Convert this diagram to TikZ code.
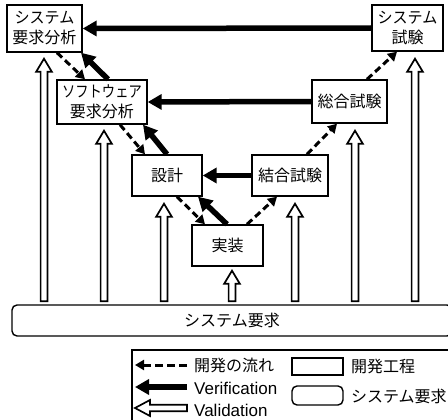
\documentclass[tikz,border=0pt]{standalone}
\usepackage{fontspec}
\usepackage{graphicx}
\setmainfont{Noto Sans CJK JP}
\newfontfamily\lat{Liberation Sans}
\usetikzlibrary{arrows.meta,calc}
\newcommand\narrow[2]{\scalebox{#1}[1]{#2}}
\newcommand\valup[2]{%
  \draw[valid] let \p1=(#1), \p2=(#2) in
   (\x1-3.4pt,\y1+3pt) -- (\x1-3.4pt,\y2-13pt) -- (\x1-7.8pt,\y2-13pt) -- (\x1,\y2)
   -- (\x1+7.8pt,\y2-13pt) -- (\x1+3.4pt,\y2-13pt) -- (\x1+3.4pt,\y1+3pt) -- cycle;}
\begin{document}
\begin{tikzpicture}[x=1pt,y=-1pt,
  proc/.style={draw,line width=1.4pt,inner sep=0pt,align=center,
    font=\fontsize{16}{20}\selectfont},
  req/.style={draw,line width=1.4pt,rounded corners=5pt,inner sep=0pt,
    font=\fontsize{16}{20}\selectfont},
  flow/.style={line width=3pt,dash pattern=on 7pt off 4pt,
    -{Triangle[length=9pt,width=10pt]}},
  verif/.style={line width=5.5pt,-{Triangle[length=14pt,width=15pt]}},
  valid/.style={draw,fill=white,line width=1.7pt,line join=miter},
  legtext/.style={anchor=west,inner sep=0pt,font=\fontsize{16}{20}\selectfont},
  legbox/.style={draw,line width=1.4pt}]
\fill[white] (0,0) rectangle (448,420);
\useasboundingbox (0,0) rectangle (448,420);
\clip (0,0) rectangle (448,420);
% process boxes
\node[proc,minimum width=75pt,minimum height=47pt] (sra) at (44.5,28.5) {\narrow{0.94}{システム}\\要求分析};
\node[proc,minimum width=90pt,minimum height=44pt] (swra) at (102,102) {\narrow{0.83}{ソフトウェア}\\要求分析};
\node[proc,minimum width=71pt,minimum height=46pt] (st) at (407.5,28) {\narrow{0.94}{システム}\\試験};
\node[proc,minimum width=75pt,minimum height=43pt] (it) at (349.5,101.5) {総合試験};
\node[proc,minimum width=70pt,minimum height=41pt] (des) at (167,175.5) {設計};
\node[proc,minimum width=76pt,minimum height=41pt] (comb) at (290,175.5) {結合試験};
\node[proc,minimum width=71pt,minimum height=41pt] (impl) at (227.5,245.5) {実装};
\node[req,minimum width=440pt,minimum height=31pt] (bar) at (232,320.5) {システム要求};
% verification
\draw[verif] (st.west) -- (sra.east);
\draw[verif] (it.west) -- (swra.east);
\draw[verif] (comb.west) -- (des.east);
\draw[verif] ([xshift=-0.5pt]impl.north) -- ([xshift=31pt]des.south);
\draw[verif] (des.north) -- ([xshift=41pt]swra.south);
\draw[verif] ([xshift=6pt]swra.north) -- ([xshift=36.5pt]sra.south);
% development flow
\draw[flow] ([xshift=12.5pt]sra.south) -- ([xshift=-17pt]swra.north);
\draw[flow] ([xshift=18pt]swra.south) -- ([xshift=-22pt]des.north);
\draw[flow] ([xshift=10pt]des.south) -- ([xshift=-22.5pt]impl.north);
\draw[flow] ([xshift=19.5pt]impl.north) -- ([xshift=-13pt]comb.south);
\draw[flow] ([xshift=17pt]comb.north) -- ([xshift=-12.5pt]it.south);
\draw[flow] ([xshift=17.5pt]it.north) -- ([xshift=-10.5pt]st.south);
% validation
\coordinate (t1) at ([xshift=-0.5pt,yshift=-6pt]sra.south);
\coordinate (t2) at ([xshift=2pt,yshift=-6pt]swra.south);
\coordinate (t3) at ([xshift=-3pt,yshift=-7pt]des.south);
\coordinate (t4) at ([xshift=4.5pt,yshift=-4pt]impl.south);
\coordinate (t5) at ([xshift=5pt,yshift=-7pt]comb.south);
\coordinate (t6) at ([xshift=5.5pt,yshift=-7pt]it.south);
\coordinate (t7) at ([xshift=7.5pt,yshift=-7pt]st.south);
\foreach \t in {t1,t2,t3,t4,t5,t6,t7}{\valup{bar.north -| \t}{\t}}
% legend
\draw[legbox] (132,424) -- (132,350) -- (452,350) -- (452,424);
\coordinate (l1a) at (187,365); \coordinate (l1b) at (135,365);
\draw[flow,dash pattern=on 8pt off 4pt] (l1a) -- (l1b);
\node[legtext] (l1t) at (194,365) {開発の流れ};
\coordinate (l2a) at (187,387); \coordinate (l2b) at (135,387);
\draw[verif] (l2a) -- (l2b);
\node[legtext,font=\fontsize{17}{20}\selectfont] (l2t) at (194,388) {\lat Verification};
\coordinate (l3a) at (187,408); \coordinate (l3b) at (135,408);
\draw[valid] let \p1=(l3a), \p2=(l3b) in
  (\x1,\y1+3.2pt) -- (\x2+15pt,\y1+3.2pt) -- (\x2+15pt,\y1+8pt) -- (\x2,\y1)
  -- (\x2+15pt,\y1-8pt) -- (\x2+15pt,\y1-3.2pt) -- (\x1,\y1-3.2pt) -- cycle;
\node[legtext,font=\fontsize{17}{20}\selectfont] (l3t) at (194,410) {\lat Validation};
\node[proc,minimum width=51pt,minimum height=17pt] (lr1) at (317.5,366.5) {};
\node[legtext] (lr1t) at (351,366) {開発工程};
\node[req,minimum width=51pt,minimum height=19pt] (lr2) at (317.5,395.5) {};
\node[legtext] (lr2t) at (351,396) {システム要求};
\end{tikzpicture}
\end{document}
